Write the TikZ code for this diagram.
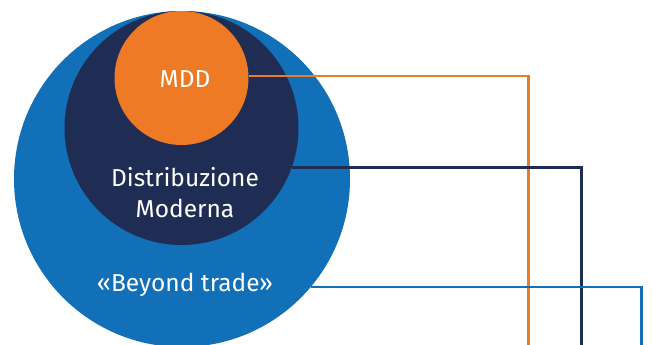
\documentclass[tikz,border=0pt]{standalone}
\usepackage{fontspec}
\setmainfont{Fira Sans}
\definecolor{cblue}{HTML}{1170B8}
\definecolor{cnavy}{HTML}{1F2C54}
\definecolor{corange}{HTML}{EE7A25}
\begin{document}
\begin{tikzpicture}[x=1pt,y=-1pt,
  lbl/.style={text=white,font=\fontsize{24.5}{31}\selectfont,inner sep=0pt,align=center},
  link/.style={line width=2.4pt}]
\useasboundingbox (0,0) rectangle (653,345);
\begin{scope}
\clip (0,0) rectangle (653,345);
\fill[cblue] (182,179) circle[radius=168];
\end{scope}
\fill[cnavy] (181.5,128) circle[radius=117];
\fill[corange] (181.5,78) circle[radius=67];
\node[lbl,anchor=base] (mdd) at (185,88) {MDD};
\node[lbl,anchor=base] (dm) at (185,217) {Distribuzione\\Moderna};
\node[lbl,anchor=base] (bt) at (185,291) {«Beyond trade»};
\coordinate (o1) at (248.5,76);
\coordinate (n1) at (292,167.5);
\coordinate (b1) at (311,287);
\coordinate (oe) at (528.5,345);
\coordinate (ne) at (581.5,345);
\coordinate (be) at (641.5,345);
\draw[link,corange] (o1) -| (oe);
\draw[link,cnavy] (n1) -| (ne);
\draw[link,cblue] (b1) -| (be);
\end{tikzpicture}
\end{document}
